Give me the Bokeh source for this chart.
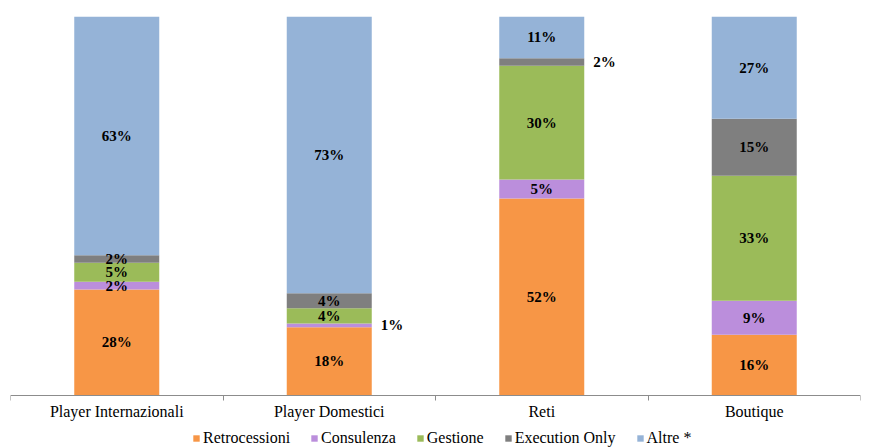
from bokeh.plotting import figure
from bokeh.models import ColumnDataSource, Range1d, FixedTicker, Legend, LegendItem
from bokeh.embed import file_html
from bokeh.resources import INLINE

categories = ["Player Internazionali", "Player Domestici", "Reti", "Boutique"]
series = ["Retrocessioni", "Consulenza", "Gestione", "Execution Only", "Altre *"]
retrocessioni = [28, 18, 52, 16]
consulenza = [2, 1, 5, 9]
gestione = [5, 4, 30, 33]
execution_only = [2, 4, 2, 15]
altre = [63, 73, 11, 27]
colors = ["#F79646", "#BB8EDC", "#9BBB59", "#7F7F7F", "#95B3D7"]
# labels drawn beside the bar instead of inside (series index, category index)
outside_labels = [(1, 1), (3, 2)]

values = [retrocessioni, consulenza, gestione, execution_only, altre]
xs = [i + 0.5 for i in range(len(categories))]

# frame reaches the bottom of the page; the band below 0 holds the axis labels and legend
p = figure(width=886, height=447, output_backend="svg", toolbar_location=None,
           x_range=Range1d(0, 4), y_range=Range1d(-13.72, 100),
           min_border_left=10, min_border_right=26, min_border_top=16, min_border_bottom=0)
p.outline_line_color = None
p.grid.visible = False
p.yaxis.visible = False

FONT = "Liberation Serif"

bottoms = [0] * len(categories)
items = []
in_x, in_y, in_t = [], [], []
out_x, out_y, out_t = [], [], []
for si, (name, vals, col) in enumerate(zip(series, values, colors)):
    tops = [b + v for b, v in zip(bottoms, vals)]
    src = ColumnDataSource(dict(x=xs, bottom=bottoms, top=tops))
    r = p.vbar(x="x", bottom="bottom", top="top", width=0.4, source=src,
               fill_color=col, line_color=None)
    items.append(LegendItem(label=name, renderers=[r]))
    for ci in range(len(categories)):
        mid = (bottoms[ci] + tops[ci]) / 2
        t = f"{vals[ci]}%"
        if (si, ci) in outside_labels:
            out_x.append(xs[ci] + 0.2); out_y.append(mid); out_t.append(t)
        else:
            in_x.append(xs[ci]); in_y.append(mid); in_t.append(t)
    bottoms = tops

p.text(x=in_x, y=in_y, text=in_t, text_align="center", text_baseline="middle",
       text_font=FONT, text_font_size="15px", text_font_style="bold", text_color="#000000")
p.text(x=out_x, y=out_y, text=out_t, text_align="left", text_baseline="middle", x_offset=9,
       text_font=FONT, text_font_size="15px", text_font_style="bold", text_color="#000000")

ax = p.xaxis[0]
ax.fixed_location = 0
ax.ticker = FixedTicker(ticks=xs, minor_ticks=list(range(len(categories) + 1)))
ax.major_label_overrides = {x: c for x, c in zip(xs, categories)}
ax.major_tick_line_color = None
ax.minor_tick_line_color = "#8C8C8C"
ax.minor_tick_in = 0
ax.minor_tick_out = 5
ax.axis_line_color = "#8C8C8C"
ax.major_label_text_font = FONT
ax.major_label_text_font_size = "16px"
ax.major_label_text_color = "#000000"
ax.major_label_standoff = 1

legend = Legend(items=items, orientation="horizontal", location=(182, 0),
                label_text_font=FONT, label_text_font_size="16px", label_text_color="#000000",
                glyph_width=8, glyph_height=8, label_standoff=3, spacing=20,
                label_height=12, padding=0, margin=0,
                border_line_color=None, background_fill_alpha=0)
p.add_layout(legend, "center")

open("out.html", "w").write(file_html(p, INLINE))
